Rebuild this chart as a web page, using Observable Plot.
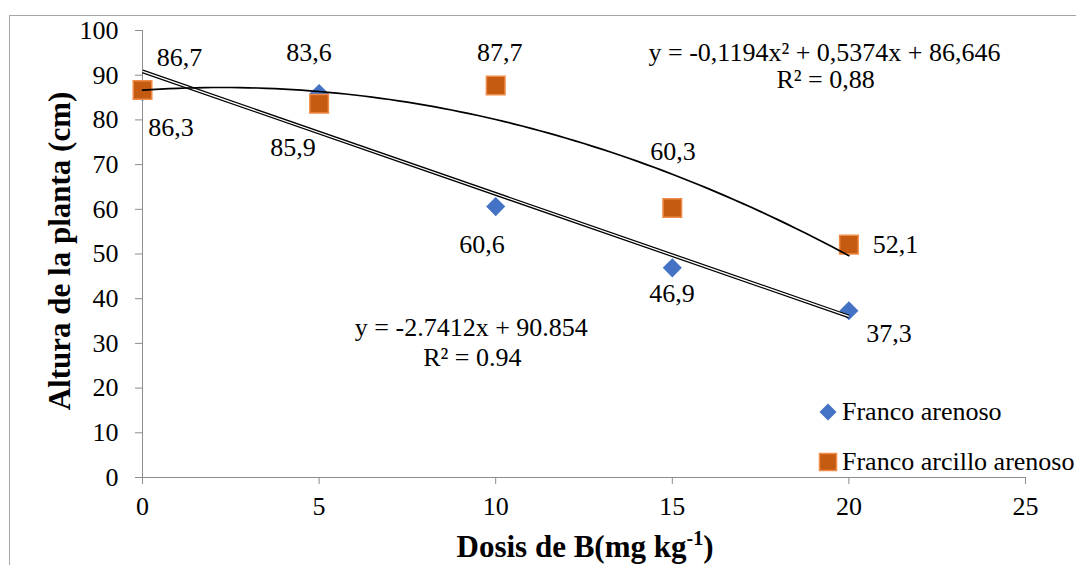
<!DOCTYPE html>
<html>
<head>
<meta charset="utf-8">
<script src="https://cdn.jsdelivr.net/npm/d3@7"></script>
<script src="https://cdn.jsdelivr.net/npm/@observablehq/plot@0.6"></script>
<style>
  html, body { margin: 0; padding: 0; background: white; overflow: hidden; font-family: Liberation Serif, serif; }
  #chart { width: 1076px; height: 565px; }
</style>
</head>
<body>
<div id="chart"></div>
<script>
// ---- data ----
const doses = [0, 5, 10, 15, 20];
const francoArenoso = [86.3, 85.9, 60.6, 46.9, 37.3];
const francoArcilloArenoso = [86.7, 83.6, 87.7, 60.3, 52.1];
const labelsArenoso = ["86,3", "85,9", "60,6", "46,9", "37,3"];
const labelsArcillo = ["86,7", "83,6", "87,7", "60,3", "52,1"];
const seriesNames = ["Franco arenoso", "Franco arcillo arenoso"];
const xTicks = [0, 5, 10, 15, 20, 25];
const yTicks = [0, 10, 20, 30, 40, 50, 60, 70, 80, 90, 100];
const linearFit = [-2.7412, 90.854];          // slope, intercept (Franco arenoso)
const quadFit = [-0.1194, 0.5374, 86.646];    // a, b, c (Franco arcillo arenoso)
const eqLinear = ["y = -2.7412x + 90.854", "R² = 0.94"];
const eqQuad = ["y = -0,1194x² + 0,5374x + 86,646", "R² = 0,88"];

// ---- styling / placement (kept apart from data) ----
const FONT = "Liberation Serif, serif";
const BLUE = "#4472C4", ORANGE = "#C55A11", ORANGE_EDGE = "#F08C4A";
const offArenoso = [[28.5, 35.5], [-26, 53.7], [-13.7, 37.6], [-0.3, 26.3], [40, 23.4]];
const offArcillo = [[37, -32.5], [-10, -51.6], [4, -33.3], [0.7, -55.8], [46.6, -0.4]];

const ptsA = doses.map((d, i) => ({x: d, y: francoArenoso[i], label: labelsArenoso[i]}));
const ptsB = doses.map((d, i) => ({x: d, y: francoArcilloArenoso[i], label: labelsArcillo[i]}));

const xs = d3.range(0, 20 + 1e-9, 0.25);
const linLine = [0, 20].map(x => ({x, y: linearFit[0] * x + linearFit[1]}));
const quadLine = xs.map(x => ({x, y: quadFit[0] * x * x + quadFit[1] * x + quadFit[2]}));

const txt = {fill: "black", fontFamily: FONT, fontSize: 26};
const labelMarks = [
  ...ptsA.map((d, i) => Plot.text([d], {x: "x", y: "y", text: "label", dx: offArenoso[i][0], dy: offArenoso[i][1], ...txt})),
  ...ptsB.map((d, i) => Plot.text([d], {x: "x", y: "y", text: "label", dx: offArcillo[i][0], dy: offArcillo[i][1], ...txt}))
];

const svg = Plot.plot({
  width: 1076,
  height: 565,
  marginLeft: 142,
  marginRight: 51,
  marginTop: 30,
  marginBottom: 88,
  style: "font-family: Liberation Serif, serif; font-size: 26px; background: white; color: black; overflow: visible;",
  x: {domain: [0, 25], label: null},
  y: {domain: [0, 100], label: null},
  marks: [
    Plot.ruleX([0], {stroke: "#8c8c8c", strokeWidth: 1}),
    Plot.ruleY([0], {stroke: "#8c8c8c", strokeWidth: 1}),
    Plot.axisY({ticks: yTicks, tickSize: 7, tickPadding: 17, stroke: "#8c8c8c", fill: "black", fontFamily: FONT, fontSize: 26, label: null, tickFormat: d => String(d)}),
    Plot.axisX({ticks: xTicks, tickSize: 7, tickPadding: 12, stroke: "#8c8c8c", fill: "black", fontFamily: FONT, fontSize: 26, label: null, tickFormat: d => String(d)}),
    Plot.dot(ptsA, {x: "x", y: "y", symbol: "diamond2", r: 8.6, fill: BLUE, stroke: "none"}),
    Plot.dot(ptsB, {x: "x", y: "y", symbol: "square", r: 10.5, fill: ORANGE, stroke: ORANGE_EDGE, strokeWidth: 1.5}),
    Plot.line(linLine, {x: "x", y: "y", stroke: "black", strokeWidth: 3.8, strokeLinecap: "butt"}),
    Plot.line(linLine, {x: "x", y: "y", stroke: "white", strokeWidth: 1.3, strokeLinecap: "butt"}),
    Plot.line(quadLine, {x: "x", y: "y", stroke: "black", strokeWidth: 1.7, curve: "linear"}),
    ...labelMarks,
    Plot.text([{x: 19.31, y: 95.15, t: eqQuad[0]}, {x: 19.34, y: 89.1, t: eqQuad[1]}], {x: "x", y: "y", text: "t", ...txt}),
    Plot.text([{x: 9.31, y: 33.6, t: eqLinear[0]}, {x: 9.34, y: 26.9, t: eqLinear[1]}], {x: "x", y: "y", text: "t", ...txt})
  ]
});

const s = d3.select(svg);
s.attr("font-family", FONT);
// outer chart frame
s.insert("rect", ":first-child")
  .attr("x", 9.5).attr("y", 15.5).attr("width", 1200).attr("height", 700)
  .attr("fill", "none").attr("stroke", "#a6a6a6").attr("stroke-width", 1);

// axis titles
s.append("text")
  .attr("transform", "translate(70,251) rotate(-90)")
  .attr("text-anchor", "middle")
  .attr("font-weight", "bold").attr("font-size", 31)
  .attr("fill", "black")
  .text("Altura de la planta (cm)");

const xt = s.append("text")
  .attr("x", 585).attr("y", 557)
  .attr("text-anchor", "middle")
  .attr("font-weight", "bold").attr("font-size", 31)
  .attr("fill", "black");
xt.append("tspan").text("Dosis de B(mg kg");
xt.append("tspan").attr("font-size", 20).attr("dy", -12).text("-1");
xt.append("tspan").attr("dy", 12).text(")");

// legend
const lg = s.append("g").attr("font-size", 26).attr("fill", "black").attr("text-anchor", "start");
lg.append("path")
  .attr("transform", "translate(828,412)")
  .attr("d", "M0,-8.5L8.5,0L0,8.5L-8.5,0Z")
  .attr("fill", BLUE);
lg.append("text").attr("x", 842).attr("y", 420).text(seriesNames[0]);
lg.append("rect")
  .attr("x", 819.5).attr("y", 453.5).attr("width", 17).attr("height", 17)
  .attr("fill", ORANGE).attr("stroke", ORANGE_EDGE).attr("stroke-width", 1.5);
lg.append("text").attr("x", 842).attr("y", 470).text(seriesNames[1]);

// make sure every text node uses the serif face
s.selectAll("g, text, tspan").attr("font-family", FONT).style("font-family", FONT);

document.getElementById("chart").appendChild(svg);
</script>
</body>
</html>
